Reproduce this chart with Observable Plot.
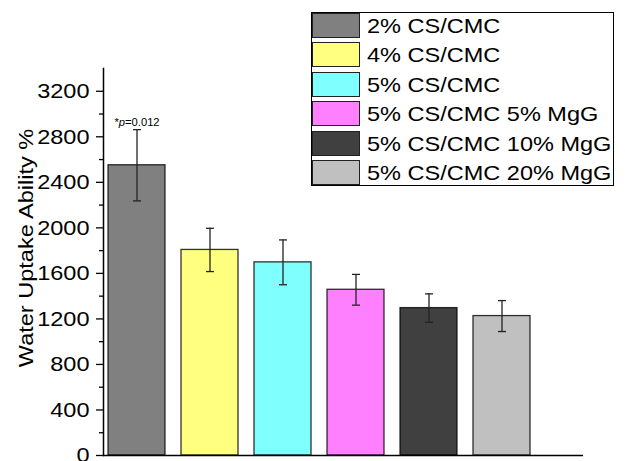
<!DOCTYPE html>
<html><head><meta charset="utf-8">
<script src="https://cdn.jsdelivr.net/npm/d3@7"></script>
<script src="https://cdn.jsdelivr.net/npm/@observablehq/plot@0.6"></script>
<style>
html,body{margin:0;padding:0;background:#fff;}
#wrap{position:relative;width:625px;height:461px;overflow:hidden;font-family:"Liberation Sans",Arial,sans-serif;}
#legend{position:absolute;left:311px;top:12px;width:303px;height:174px;box-sizing:border-box;border:1px solid #000;background:#fff;}
.row{position:absolute;left:0;height:25px;display:flex;align-items:center;}
.sw{width:48px;height:25px;box-sizing:border-box;border:1px solid #222;flex:none;}
.lab{font-size:21px;margin-left:7px;display:inline-block;transform:scaleX(1.12);transform-origin:left center;white-space:nowrap;color:#000;line-height:25px;}
</style></head><body><div id="wrap"></div>
<script>
const categories = ["2% CS/CMC", "4% CS/CMC", "5% CS/CMC", "5% CS/CMC 5% MgG", "5% CS/CMC 10% MgG", "5% CS/CMC 20% MgG"];
const values = [2550, 1806, 1697, 1456, 1295, 1225];
const errors = [313, 190, 197, 135, 125, 136];
const colors = ["#808080", "#FFFF80", "#80FFFF", "#FF80FF", "#404040", "#C0C0C0"];
const yTicks = [0, 400, 800, 1200, 1600, 2000, 2400, 2800, 3200];
const yMinorTicks = [200, 600, 1000, 1400, 1800, 2200, 2600, 3000];
const yDomain = [0, 3400];
const yLabel = ["Water Uptake Ability %"];
const annotationCategory = ["2% CS/CMC"];
const annotationText = ["*p=0.012"];

const data = categories.map((c, i) => ({category: c, value: values[i], lo: values[i] - errors[i], hi: values[i] + errors[i]}));
const notes = annotationCategory.map((c, i) => {
  const k = categories.indexOf(c);
  return {category: c, y: values[k] + errors[k], text: annotationText[i]};
});
const cap = {draw(ctx) { ctx.moveTo(-4, 0); ctx.lineTo(4, 0); }};

const plot = Plot.plot({
  width: 625, height: 461,
  marginTop: 68, marginBottom: 6, marginLeft: 103, marginRight: 42,
  style: {fontFamily: "'Liberation Sans', Arial, sans-serif", fontSize: "21px", color: "#000", background: "#fff"},
  x: {domain: categories, paddingInner: 0.226, paddingOuter: 0.4, align: 0.085, axis: null},
  y: {domain: yDomain, axis: null},
  color: {domain: categories, range: colors},
  marks: [
    Plot.barY(data, {x: "category", y: "value", fill: "category", stroke: "#000", strokeOpacity: 0.8, strokeWidth: 1.3}),
    Plot.ruleX(data, {x: "category", y1: "lo", y2: "hi", stroke: "#222", strokeWidth: 1.3}),
    Plot.dot(data, {x: "category", y: "lo", symbol: cap, stroke: "#222", fill: "none", strokeWidth: 1.3}),
    Plot.dot(data, {x: "category", y: "hi", symbol: cap, stroke: "#222", fill: "none", strokeWidth: 1.3}),
    Plot.axisY(yTicks, {tickSize: 7, tickPadding: 7, strokeWidth: 1.3, fontSize: 21, tickFormat: "d", label: null}),
    Plot.axisY(yMinorTicks, {tickSize: 4, text: null, strokeWidth: 1.3, label: null}),
    Plot.ruleY([0], {stroke: "#000", strokeWidth: 1.5}),
    Plot.frame({anchor: "left", stroke: "#000", strokeWidth: 1.5}),
    Plot.text(notes, {x: "category", y: "y", text: "text", dy: -4, lineAnchor: "bottom", fontSize: 10}),
    Plot.text(yLabel, {frameAnchor: "left", rotate: -90, dx: -71, dy: -14, lineAnchor: "bottom", fontSize: 21, textAnchor: "middle"})
  ]
});

const wrap = document.getElementById("wrap");
wrap.appendChild(plot);

// italic p in annotation
plot.querySelectorAll("text").forEach(t => {
  if (annotationText.includes(t.textContent)) {
    const s = t.textContent;
    const k = s.indexOf("p");
    t.textContent = "";
    const ns = "http://www.w3.org/2000/svg";
    const a = document.createElementNS(ns, "tspan"); a.textContent = s.slice(0, k);
    const b = document.createElementNS(ns, "tspan"); b.textContent = "p"; b.setAttribute("font-style", "italic");
    const c = document.createElementNS(ns, "tspan"); c.textContent = s.slice(k + 1);
    t.append(a, b, c);
  }
});
const STRETCH = 1.12;
plot.querySelectorAll("text").forEach(t => {
  const w = t.getComputedTextLength();
  if (w > 0) {
    t.setAttribute("textLength", w * STRETCH);
    t.setAttribute("lengthAdjust", "spacingAndGlyphs");
  }
});

// legend
const legend = document.createElement("div");
legend.id = "legend";
categories.forEach((c, i) => {
  const row = document.createElement("div");
  row.className = "row";
  row.style.top = (i * 29.45) + "px";
  const sw = document.createElement("div");
  sw.className = "sw";
  sw.style.background = colors[i];
  const lab = document.createElement("span");
  lab.className = "lab";
  lab.textContent = c;
  row.append(sw, lab);
  legend.appendChild(row);
});
wrap.appendChild(legend);
</script></body></html>
